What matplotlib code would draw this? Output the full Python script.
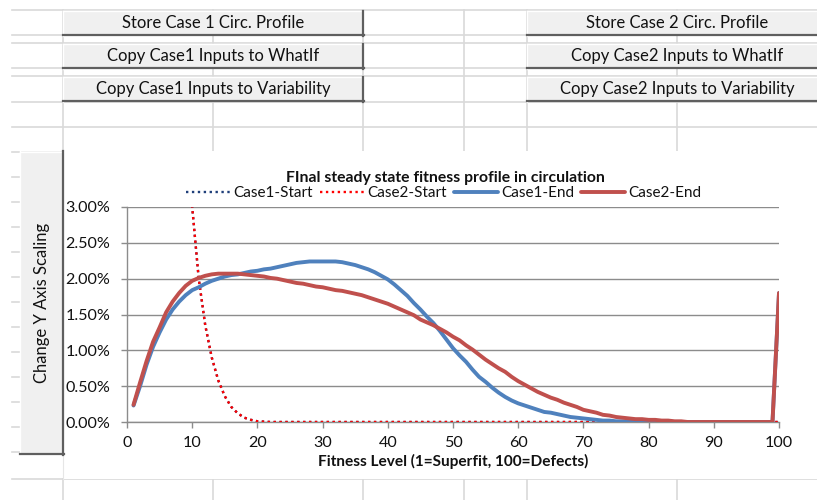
import matplotlib
matplotlib.use("Agg")
import matplotlib.pyplot as plt
from matplotlib.patches import Rectangle
from matplotlib.ticker import FuncFormatter, MultipleLocator

plt.rcParams['font.family'] = ['Lato', 'DejaVu Sans']

# ---------------- data (values in percent) ----------------
fitness = list(range(1, 101))

case1_end = [0.23, 0.50, 0.80, 1.05, 1.25, 1.43, 1.57, 1.68, 1.77, 1.84,
             1.88, 1.93, 1.97, 2.00, 2.03, 2.05, 2.06, 2.08, 2.10, 2.11,
             2.13, 2.14, 2.16, 2.18, 2.20, 2.22, 2.23, 2.24, 2.24, 2.24,
             2.24, 2.24, 2.23, 2.21, 2.19, 2.16, 2.13, 2.09, 2.04, 1.99,
             1.92, 1.84, 1.76, 1.66, 1.57, 1.47, 1.38, 1.27, 1.15, 1.03,
             0.93, 0.84, 0.73, 0.63, 0.56, 0.48, 0.41, 0.35, 0.30, 0.26,
             0.23, 0.20, 0.17, 0.14, 0.13, 0.11, 0.09, 0.07, 0.06, 0.05,
             0.04, 0.03, 0.02, 0.02, 0.01, 0.01, 0.01, 0.00, 0.00, 0.00,
             0.00, 0.00, 0.00, 0.00, 0.00, 0.00, 0.00, 0.00, 0.00, 0.00,
             0.00, 0.00, 0.00, 0.00, 0.00, 0.00, 0.00, 0.00, 0.00, 1.80]

case2_end = [0.24, 0.55, 0.85, 1.12, 1.32, 1.53, 1.68, 1.80, 1.90, 1.97,
             2.01, 2.04, 2.06, 2.07, 2.07, 2.07, 2.07, 2.06, 2.05, 2.04,
             2.03, 2.01, 2.00, 1.98, 1.96, 1.94, 1.93, 1.91, 1.89, 1.88,
             1.86, 1.84, 1.83, 1.81, 1.79, 1.77, 1.74, 1.71, 1.68, 1.65,
             1.61, 1.57, 1.53, 1.49, 1.43, 1.39, 1.35, 1.30, 1.25, 1.19,
             1.14, 1.07, 1.01, 0.94, 0.87, 0.81, 0.75, 0.70, 0.63, 0.57,
             0.52, 0.47, 0.42, 0.38, 0.34, 0.31, 0.27, 0.24, 0.21, 0.17,
             0.15, 0.13, 0.10, 0.09, 0.07, 0.06, 0.05, 0.04, 0.04, 0.03,
             0.03, 0.02, 0.02, 0.01, 0.01, 0.00, 0.00, 0.00, 0.00, 0.00,
             0.00, 0.00, 0.00, 0.00, 0.00, 0.00, 0.00, 0.00, 0.00, 1.80]

case2_start = [60.0, 45.0, 33.0, 24.0, 17.0, 12.0, 8.7, 6.2, 4.4, 3.0,
               2.0, 1.35, 0.90, 0.58, 0.36, 0.21, 0.12, 0.06, 0.03, 0.01,
               0.005] + [0.0] * 79
case1_start = list(case2_start)

series_names = ["Case1-Start", "Case2-Start", "Case1-End", "Case2-End"]
chart_title = "FInal steady state fitness profile in circulation"
x_label = "Fitness Level (1=Superfit, 100=Defects)"
y_button_label = "Change Y Axis Scaling"
left_buttons = ["Store Case 1 Circ. Profile", "Copy Case1 Inputs to WhatIf",
                "Copy Case1 Inputs to Variability"]
right_buttons = ["Store Case 2 Circ. Profile", "Copy Case2 Inputs to WhatIf",
                 "Copy Case2 Inputs to Variability"]

# ---------------- figure ----------------
W, H = 817, 500
fig = plt.figure(figsize=(W / 100, H / 100), dpi=100)
bg = fig.add_axes([0, 0, 1, 1])
bg.set_xlim(0, W)
bg.set_ylim(H, 0)
bg.axis('off')

grid_c = '#d9d9d9'
text_c = '#111111'
# spreadsheet grid
rows_top = [10, 35, 43, 68, 76, 102, 127, 152]
for y in rows_top:
    bg.plot([12, W], [y, y], color=grid_c, lw=1.2, zorder=1)
for x in [63, 213, 363, 464, 527, 677]:
    bg.plot([x, x], [10, 152], color=grid_c, lw=1.2, zorder=1)
    bg.plot([x, x], [479, H], color=grid_c, lw=1.2, zorder=1)
for y in range(177, 460, 25):
    bg.plot([12, 20], [y, y], color=grid_c, lw=1.2, zorder=1)
bg.plot([12, W], [479, 479], color=grid_c, lw=1.2, zorder=1)

# chart area
bg.add_patch(Rectangle((63, 151), W - 63, 328, facecolor='white',
                       edgecolor='none', zorder=2))
bg.plot([63.5, 63.5], [151, 479], color='#e6e6e6', lw=0.8, zorder=2.5)


def button(x0, y0, x1, y1, zorder=3):
    bg.add_patch(Rectangle((x0, y0), x1 - x0, y1 - y0, facecolor='#f0f0f0',
                           edgecolor='none', zorder=zorder))
    bg.plot([x0, x1], [y0 + 0.5, y0 + 0.5], color='#ffffff', lw=1, zorder=zorder)
    bg.plot([x0 + 0.5, x0 + 0.5], [y0, y1], color='#ffffff', lw=1, zorder=zorder)
    bg.plot([x0, x1], [y1 - 0.8, y1 - 0.8], color='#5f5f5f', lw=1.6, zorder=zorder)
    bg.plot([x1 - 0.8, x1 - 0.8], [y0, y1], color='#5f5f5f', lw=1.6, zorder=zorder)


btn_fs = 12.0
btn_rows = [(10.5, 36), (43.5, 69), (76.5, 102)]
for (ya, yb), lt, rt in zip(btn_rows, left_buttons, right_buttons):
    button(63, ya, 364, yb)
    bg.text(213.5, (ya + yb) / 2 - 0.5, lt, ha='center', va='center',
            fontsize=btn_fs, color=text_c, zorder=4)
    button(527, ya, 830, yb)
    bg.text(677, (ya + yb) / 2 - 0.5, rt, ha='center', va='center',
            fontsize=btn_fs, color=text_c, zorder=4)

button(20, 151, 64, 455)
bg.text(42, 303, y_button_label, rotation=90, ha='center', va='center',
        fontsize=btn_fs, color=text_c, zorder=4)

# ---------------- chart ----------------
x0p, x1p = 127, 779
y0p, y1p = 422, 207
ax = fig.add_axes([x0p / W, (H - y0p) / H, (x1p - x0p) / W, (y0p - y1p) / H])
ax.set_facecolor('none')
ax.set_xlim(0, 100)
ax.set_ylim(0, 3)

axis_c = '#8c8c8c'
ax.yaxis.set_major_locator(MultipleLocator(0.5))
ax.xaxis.set_major_locator(MultipleLocator(10))
ax.yaxis.set_major_formatter(FuncFormatter(lambda v, p: f"{v:.2f}%"))
ax.grid(axis='y', color=axis_c, lw=1.0)
ax.set_axisbelow(True)
for s in ['top', 'right']:
    ax.spines[s].set_visible(False)
for s in ['left', 'bottom']:
    ax.spines[s].set_color(axis_c)
    ax.spines[s].set_linewidth(1.0)
ax.tick_params(axis='both', colors=axis_c, length=4, width=1.0, direction='out',
               labelcolor=text_c, labelsize=11.6)
ax.tick_params(axis='y', pad=8)
ax.tick_params(axis='x', pad=6)

dot = (0, (1, 1.5))
ax.plot(fitness, case1_start, color='#1f3f7a', lw=1.7, ls=dot, label=series_names[0],
        clip_on=True, zorder=3)
ax.plot(fitness, case2_start, color='#ff0000', lw=1.7, ls=dot, label=series_names[1],
        clip_on=True, zorder=3)
ax.plot(fitness, case1_end, color='#4f81bd', lw=2.8, label=series_names[2],
        solid_joinstyle='round', solid_capstyle='round', zorder=4)
ax.plot(fitness, case2_end, color='#c0504d', lw=2.8, label=series_names[3],
        solid_joinstyle='round', solid_capstyle='round', zorder=5)

ax.set_xlabel(x_label, fontsize=11.1, fontweight='bold', color=text_c, labelpad=3)

fig.text(445 / W, 1 - 178 / H, chart_title, ha='center', va='center',
         fontsize=11.3, fontweight='bold', color=text_c)
leg = fig.legend(loc='center', bbox_to_anchor=(444 / W, 1 - 193 / H), ncol=4,
                 frameon=False, fontsize=11.0, handlelength=2.9, handletextpad=0.2,
                 columnspacing=0.45, borderpad=0.0)
for t in leg.get_texts():
    t.set_color(text_c)

fig.savefig('out.png', dpi=100)
